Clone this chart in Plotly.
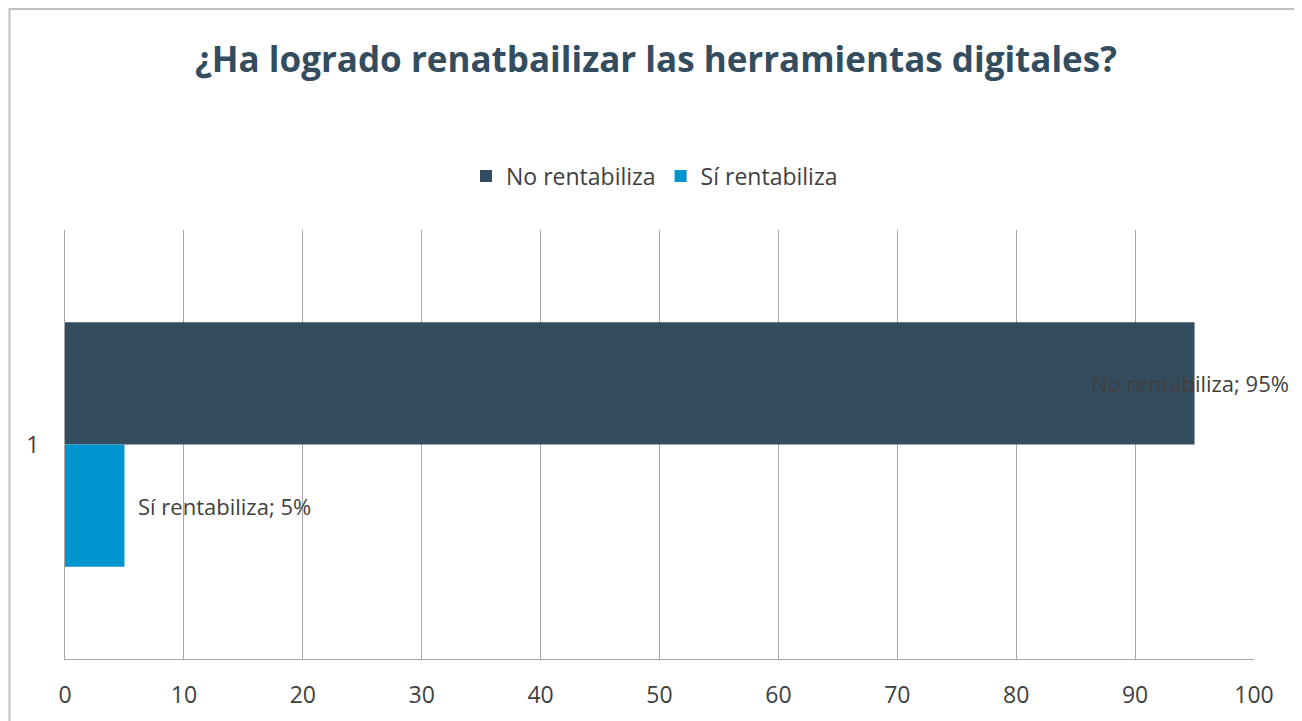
import plotly.graph_objects as go

categories = ["1"]
series_names = ["No rentabiliza", "Sí rentabiliza"]
series_values = [[95], [5]]
series_colors = ["#344D5E", "#0095CF"]
x_ticks = [0, 10, 20, 30, 40, 50, 60, 70, 80, 90, 100]

OFF = 8  # page body margin
W, H = 1302, 721
L, R, T, B = 65 - OFF, 48 + OFF, 230 - OFF, 62 + OFF
pw, ph = W - L - R, H - T - B

fig = go.Figure()
for name, vals, col in zip(series_names, series_values, series_colors):
    fig.add_trace(go.Bar(
        name=name, y=categories, x=vals, orientation="h",
        marker=dict(color=col, line=dict(width=0)),
    ))

bargap = 0.43
half = ph * (1 - bargap) / 4  # offset of each bar centre from category centre

label_font = dict(family="Open Sans, sans-serif", size=22, color="#3F3F3F")
fig.add_annotation(x=series_values[0][0], y=0, yshift=half, xshift=-5,
                   text=f"{series_names[0]}; {series_values[0][0]}%",
                   xref="x", yref="y", showarrow=False, xanchor="center",
                   font=label_font)
fig.add_annotation(x=series_values[1][0], y=0, yshift=-half,
                   text=f"{series_names[1]}; {series_values[1][0]}%",
                   xref="x", yref="y", showarrow=False, xanchor="left", xshift=12,
                   font=label_font)

fig.update_layout(
    width=W, height=H,
    margin=dict(l=L, r=R, t=T, b=B, autoexpand=False),
    paper_bgcolor="white", plot_bgcolor="white",
    barmode="group", bargap=bargap, bargroupgap=0,
    title=dict(text="<b>¿Ha logrado renatbailizar las herramientas digitales?</b>",
               x=(656 - OFF) / W, xanchor="center", y=1 - (60 - OFF) / H, yanchor="middle",
               font=dict(family="Open Sans, sans-serif", size=35, color="#344D5E")),
    legend=dict(orientation="h", x=(L + pw * 0.495) / W, xref="paper", xanchor="center",
                y=(H - B - (176 - OFF)) / ph, yanchor="middle",
                font=dict(family="Open Sans, sans-serif", size=23, color="#3F3F3F"),
                itemsizing="constant", traceorder="normal"),
    xaxis=dict(range=[0, 100], tickvals=x_ticks, showgrid=True, gridcolor="#A6A6A6",
               gridwidth=1, zeroline=False, showline=True, linecolor="#A6A6A6",
               ticks="", tickfont=dict(family="Open Sans, sans-serif", size=23, color="#3F3F3F"),
               ticklabelstandoff=15, fixedrange=True),
    yaxis=dict(type="category", autorange="reversed", showgrid=False, zeroline=False,
               showline=True, linecolor="#A6A6A6", ticks="",
               tickfont=dict(family="Open Sans, sans-serif", size=23, color="#3F3F3F"),
               ticklabelstandoff=20),
    showlegend=True,
)

# outer chart border (partially off-screen like the reference)
fig.add_shape(type="rect", xref="paper", yref="paper",
              x0=(1.5 - L) / pw, x1=(W + 10 - L) / pw,
              y0=-(B + 10) / ph, y1=(H - B - 1) / ph,
              line=dict(color="#BFBFBF", width=2), fillcolor="rgba(0,0,0,0)", layer="below")

fig.write_html("out.html")
